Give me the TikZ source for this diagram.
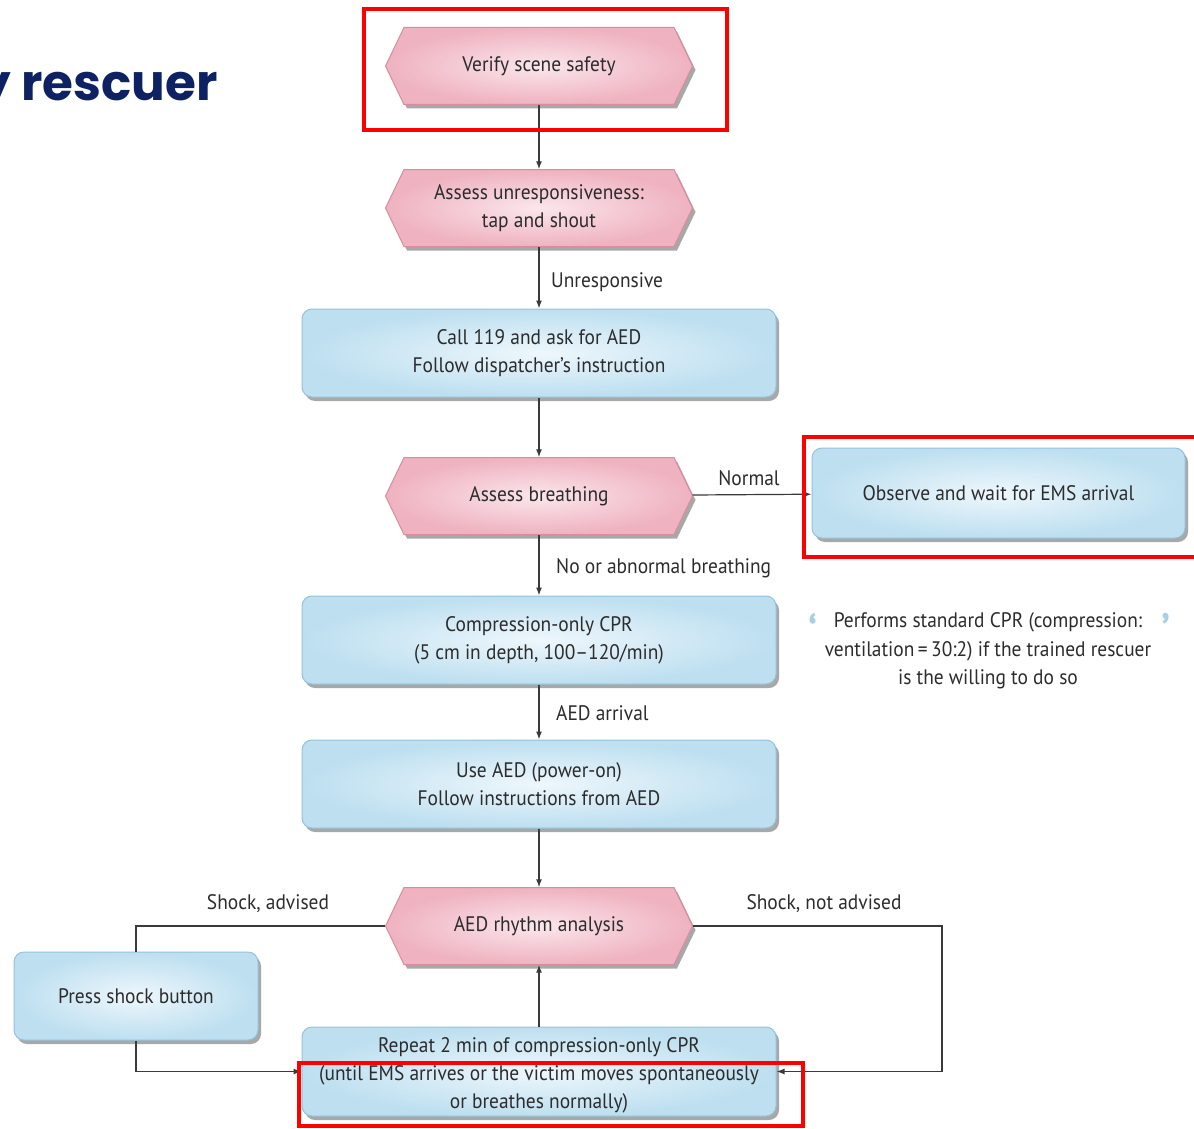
\documentclass[tikz,border=0pt]{standalone}
\usepackage{fontspec}
\setmainfont{PT Sans}[FakeStretch=0.925]
\newfontfamily\titlefont{Poppins}
\usetikzlibrary{shadows,arrows.meta,calc}
\definecolor{txt}{HTML}{2C2C2C}
\definecolor{navy}{HTML}{0E2163}
\definecolor{pinkin}{HTML}{FBE6EC}
\definecolor{pinkout}{HTML}{EFB2C0}
\definecolor{pinkborder}{HTML}{D98C9F}
\definecolor{bluein}{HTML}{EEF7FC}
\definecolor{blueout}{HTML}{BDDFF0}
\definecolor{blueborder}{HTML}{94C2DA}
\definecolor{quoteblue}{HTML}{A9CFE4}
\definecolor{arrowgray}{HTML}{3A3A3A}
\newcommand\txtfont{\fontsize{21}{28}\selectfont}
\newcommand\hexnode[4]{%
  \path[hexsty] ({#2-153.5},{#3}) -- ({#2-135},{#3-38.5}) -- ({#2+135},{#3-38.5})
     -- ({#2+153.5},{#3}) -- ({#2+135},{#3+38.5}) -- ({#2-135},{#3+38.5}) -- cycle;
  \node[hextxt] (#1) at (#2,#3) {#4};}
\begin{document}
\begin{tikzpicture}[x=1pt,y=-1pt,
  shadowsty/.style={drop shadow={shadow xshift=3pt,shadow yshift=-4pt,opacity=0.45,fill=black!75}},
  hexsty/.style={draw=pinkborder,line width=1pt,inner color=pinkin,outer color=pinkout,shadowsty},
  hextxt/.style={minimum width=307pt,minimum height=77pt,inner sep=0pt,text=txt,font=\txtfont,align=center},
  bluebox/.style={draw=blueborder,line width=1pt,rounded corners=10pt,inner color=bluein,outer color=blueout,
     shadowsty,minimum width=474pt,minimum height=88pt,inner sep=0pt,text=txt,font=\txtfont,align=center},
  lbl/.style={inner sep=0pt,text=txt,font=\txtfont},
  conn/.style={draw=arrowgray,line width=1.2pt,-{Latex[length=8pt,width=6pt]}},
  plain/.style={draw=arrowgray,line width=1.2pt},
  redbox/.style={draw=red,line width=4pt},
  quote/.style={inner sep=0pt,text=quoteblue,font=\fontsize{44}{44}\selectfont\bfseries}]
\fill[white] (0,0) rectangle (1194,1129);
\useasboundingbox (0,0) rectangle (1194,1129);
\begin{scope}
\clip (0,0) rectangle (1194,1129);
% title
\node[anchor=base east,inner sep=0pt,text=navy,font=\titlefont\bfseries\fontsize{50}{50}\selectfont] (title) at (218,101) {y rescuer};
% nodes
\hexnode{h1}{539}{66}{Verify scene safety}
\hexnode{h2}{539}{208}{Assess unresponsiveness:\\tap and shout}
\node[bluebox] (call) at (539,353) {Call 119 and ask for AED\\Follow dispatcher's instruction};
\hexnode{breath}{539}{496}{Assess breathing}
\node[bluebox,minimum width=373pt,minimum height=90pt] (obs) at (998.5,493) {Observe and wait for EMS arrival};
\node[bluebox] (comp) at (539,640) {Compression-only CPR\\(5 cm in depth, 100–120/min)};
\node[bluebox] (useaed) at (539,784) {Use AED (power-on)\\Follow instructions from AED};
\hexnode{aed}{539}{926}{AED rhythm analysis}
\node[bluebox,minimum width=244pt] (press) at (136,996) {Press shock button};
\node[bluebox,minimum height=89pt] (rep) at (539,1071.5) {};
\node[lbl,align=center] (reptext) at (539,1075) {Repeat 2 min of compression-only CPR\\(until EMS arrives or the victim moves spontaneously\\or breathes normally)};
% note
\node[lbl,align=center,font=\fontsize{21}{28.5}\selectfont] (note) at (988,651) {Performs standard CPR (compression:\\ventilation\,=\,30:2) if the trained rescuer\\is the willing to do so};
\node[quote,anchor=north] (q1) at (813,613) {‘};
\node[quote,anchor=north] (q2) at (1166,613) {’};
% connectors
\draw[conn] (h1) -- (h2);
\draw[conn] (h2) -- (call);
\draw[conn] (call) -- (breath);
\draw[conn] (breath) -- (obs);
\draw[conn] (breath) -- (comp);
\draw[conn] (comp) -- (useaed);
\draw[conn] (useaed) -- (aed);
\draw[plain] (aed.west) -| (press.north);
\draw[conn] (press.south) |- (rep.west);
\coordinate (rc) at (942,926);
\draw[conn] (aed.east) -- (rc) |- (rep.east);
\draw[conn] (rep) -- (aed);
% labels
\node[lbl,anchor=west] (l1) at (551,282) {Unresponsive};
\node[lbl] (l2) at (749,478) {Normal};
\node[lbl,anchor=west] (l3) at (556,568) {No or abnormal breathing};
\node[lbl,anchor=west] (l4) at (556,713) {AED arrival};
\node[lbl] (l5) at (268,904) {Shock, advised};
\node[lbl] (l6) at (824,904) {Shock, not advised};
% highlight boxes
\draw[redbox] (364,9) rectangle (727,130);
\draw[redbox] (804,437) rectangle (1200,557);
\draw[redbox] (299,1063) rectangle (803,1126);
\end{scope}
\end{tikzpicture}
\end{document}
